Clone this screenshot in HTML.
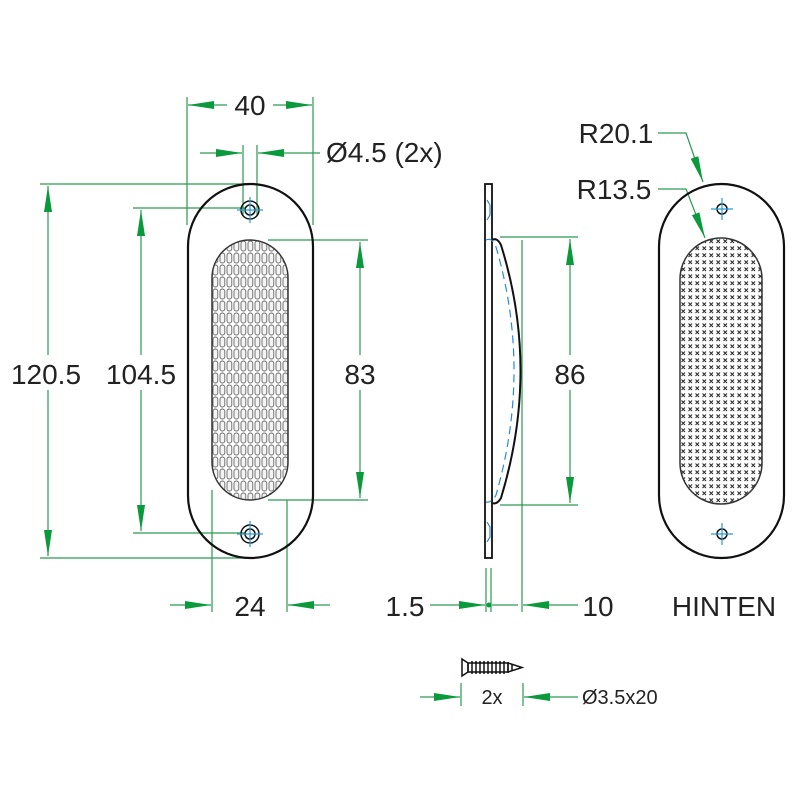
<!DOCTYPE html>
<html><head><meta charset="utf-8"><style>html,body{margin:0;padding:0;background:#fff}svg{display:block}text{font-family:"Liberation Sans",sans-serif;fill:#222}</style></head><body>
<svg width="800" height="800" viewBox="0 0 800 800" xmlns="http://www.w3.org/2000/svg">
<defs>
<pattern id="perf" x="212" y="240" width="7" height="12" patternUnits="userSpaceOnUse">
<rect x="1" y="1" width="4.8" height="10" rx="2.3" fill="#f4f4f4" stroke="#666" stroke-width="0.9"/>
</pattern>
<pattern id="perf2" x="680" y="238" width="7" height="7" patternUnits="userSpaceOnUse">
<path d="M1.5 1.5 L5 5 M5 1.5 L1.5 5" stroke="#333" stroke-width="1.2"/>
</pattern>
<marker id="a" viewBox="0 0 26 8" refX="26" refY="4" markerWidth="26" markerHeight="8" markerUnits="userSpaceOnUse" orient="auto"><path d="M0 0 L26 4 L0 8 Z" fill="#0a9a3c"/></marker>
</defs>
<g stroke="#2a9a50" stroke-width="1.2" fill="none">
<line x1="187" y1="97" x2="187" y2="225"/><line x1="313" y1="97" x2="313" y2="225"/>
<line x1="227" y1="105" x2="188" y2="105" marker-end="url(#a)"/><line x1="273" y1="105" x2="312" y2="105" marker-end="url(#a)"/>
<line x1="243" y1="145" x2="243" y2="215"/><line x1="257" y1="145" x2="257" y2="215"/>
<line x1="200" y1="153" x2="242" y2="153" marker-end="url(#a)"/><line x1="320" y1="153" x2="258" y2="153" marker-end="url(#a)"/>
<line x1="40" y1="184" x2="250" y2="184"/><line x1="40" y1="558" x2="250" y2="558"/>
<line x1="48" y1="355" x2="48" y2="186" marker-end="url(#a)"/><line x1="48" y1="390" x2="48" y2="556" marker-end="url(#a)"/>
<line x1="133" y1="208" x2="245" y2="208"/><line x1="133" y1="533" x2="245" y2="533"/>
<line x1="141" y1="355" x2="141" y2="210" marker-end="url(#a)"/><line x1="141" y1="390" x2="141" y2="531" marker-end="url(#a)"/>
<line x1="268" y1="240" x2="368" y2="240"/><line x1="268" y1="500" x2="368" y2="500"/>
<line x1="360" y1="355" x2="360" y2="242" marker-end="url(#a)"/><line x1="360" y1="390" x2="360" y2="498" marker-end="url(#a)"/>
<line x1="500" y1="237" x2="578" y2="237"/><line x1="500" y1="505" x2="578" y2="505"/>
<line x1="570" y1="355" x2="570" y2="239" marker-end="url(#a)"/><line x1="570" y1="390" x2="570" y2="503" marker-end="url(#a)"/>
<line x1="212" y1="490" x2="212" y2="612"/><line x1="287" y1="500" x2="287" y2="612"/>
<line x1="170" y1="605" x2="211" y2="605" marker-end="url(#a)"/><line x1="330" y1="605" x2="288" y2="605" marker-end="url(#a)"/>
<line x1="486" y1="568" x2="486" y2="612"/><line x1="491" y1="568" x2="491" y2="612"/>
<line x1="522" y1="240" x2="522" y2="612"/>
<line x1="430" y1="605" x2="485" y2="605" marker-end="url(#a)"/><line x1="492" y1="605" x2="518" y2="605"/>
<line x1="578" y1="605" x2="523" y2="605" marker-end="url(#a)"/>
<line x1="461" y1="683" x2="461" y2="706"/><line x1="523" y1="683" x2="523" y2="706"/>
<line x1="420" y1="697" x2="460" y2="697" marker-end="url(#a)"/><line x1="578" y1="697" x2="524" y2="697" marker-end="url(#a)"/>
<polyline points="658,133 686,133 703,182" marker-end="url(#a)"/>
<polyline points="658,189 686,189 705,238" marker-end="url(#a)"/>
</g>
<circle cx="489" cy="605" r="2.5" fill="#0a9a3c"/>
<rect x="188" y="184" width="125" height="374" rx="62.5" fill="none" stroke="#111" stroke-width="2.2"/>
<rect x="212" y="240" width="76" height="260" rx="38" fill="url(#perf)" stroke="#333" stroke-width="1.5"/>
<g fill="none" stroke="#111" stroke-width="1.5"><circle cx="250" cy="210" r="9"/><circle cx="250" cy="210" r="5"/><circle cx="250" cy="534" r="9"/><circle cx="250" cy="534" r="5"/></g>
<g stroke="#2a9ad8" stroke-width="1.2"><path d="M237 210H263M250 197V223M237 534H263M250 521V547"/></g>
<rect x="485" y="184" width="7" height="374" fill="none" stroke="#111" stroke-width="1.8"/>
<path d="M492 240 Q497 237 501 245 Q540 370 501 498 Q497 505 492 503" fill="none" stroke="#111" stroke-width="2"/>
<path d="M486 240 Q492 237 496 247 Q532 370 496 495 Q492 503 486 502" fill="none" stroke="#2a8ad8" stroke-width="1.2" stroke-dasharray="8 5"/>
<g stroke="#2a8ad8" stroke-width="1.2" fill="none"><path d="M487 200 L490 205 L490 215 L487 220M487 522 L490 527 L490 537 L487 542"/></g>
<rect x="659" y="184" width="125" height="374" rx="62.5" fill="none" stroke="#111" stroke-width="2.2"/>
<rect x="680" y="238" width="82" height="266" rx="41" fill="url(#perf2)" stroke="#333" stroke-width="1.5"/>
<g fill="none" stroke="#111" stroke-width="1.5"><circle cx="722" cy="209" r="5"/><circle cx="722" cy="534" r="5"/></g>
<g stroke="#2a9ad8" stroke-width="1.2"><path d="M711 209H733M722 198V220M711 534H733M722 523V545"/></g>
<path d="M462 659 L468 663 L468 672 L462 676 Z" fill="none" stroke="#111" stroke-width="1.5"/>
<rect x="468" y="663" width="40" height="9" fill="none" stroke="#111" stroke-width="1.5"/>
<path d="M508 663 L522 667.5 L508 672" fill="none" stroke="#111" stroke-width="1.5"/>
<g stroke="#111" stroke-width="1.5"><path d="M472 661V674M476 661V674M480 661V674M484 661V674M488 661V674M492 661V674M496 661V674M500 661V674M504 661V674M508 662V673M512 664V671"/></g>
<g font-size="28">
<text x="250" y="115" text-anchor="middle">40</text>
<text x="326" y="162">Ø4.5 (2x)</text>
<text x="46" y="384" text-anchor="middle">120.5</text>
<text x="141" y="384" text-anchor="middle">104.5</text>
<text x="360" y="384" text-anchor="middle">83</text>
<text x="570" y="384" text-anchor="middle">86</text>
<text x="250" y="616" text-anchor="middle">24</text>
<text x="405" y="616" text-anchor="middle">1.5</text>
<text x="598" y="616" text-anchor="middle">10</text>
<text x="616" y="143" text-anchor="middle">R20.1</text>
<text x="614" y="199" text-anchor="middle">R13.5</text>
<text x="724" y="616" text-anchor="middle">HINTEN</text>
</g>
<text x="492" y="704" font-size="20" text-anchor="middle">2x</text>
<text x="582" y="704" font-size="20">Ø3.5x20</text>
</svg>
</body></html>
